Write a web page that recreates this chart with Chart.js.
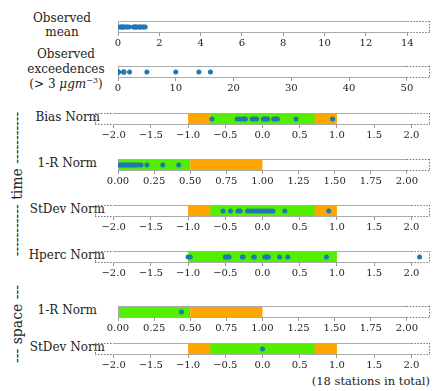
<!DOCTYPE html>
<html>
<head>
<meta charset="utf-8">
<script src="https://cdn.jsdelivr.net/npm/chart.js@4/dist/chart.umd.min.js"></script>
<style>
  body { margin: 0; background: #fff; }
  #wrap { position: relative; width: 436px; height: 391px; overflow: hidden; font-family: "DejaVu Serif", serif; color: #222; }
  canvas { position: absolute; left: 0; }
  .lbl { position: absolute; font-size: 12px; line-height: 14px; white-space: nowrap; transform: translateY(-50%); }
  .side { position: absolute; font-size: 14px; white-space: nowrap; transform: translate(-50%, -50%) rotate(-90deg); color: #222; }
  sup { font-size: 8px; vertical-align: 5px; line-height: 0; }
</style>
</head>
<body>
<div id="wrap">
  <div class="lbl" style="left:12px;width:100px;text-align:center;top:25px">Observed<br>mean</div>
  <div class="lbl" style="left:16px;width:100px;text-align:center;top:69px;line-height:15px">Observed<br>exceedences<br>(&gt; 3 <i>μgm</i><sup>−3</sup>)</div>
  <div class="lbl" style="right:336px;top:117px">Bias Norm</div>
  <div class="lbl" style="right:339px;top:163px">1-R Norm</div>
  <div class="lbl" style="right:331px;top:209px">StDev Norm</div>
  <div class="lbl" style="right:331px;top:255px">Hperc Norm</div>
  <div class="lbl" style="right:339px;top:310px">1-R Norm</div>
  <div class="lbl" style="right:331px;top:347px">StDev Norm</div>
  <div class="side" style="left:17px;top:184px">----------- time -----------</div>
  <div class="side" style="left:17px;top:324px">--- space ---</div>
  <div class="lbl" style="right:6px;top:381px;font-size:11.5px">(18 stations in total)</div>
</div>
<script>
// values per station (18 stations)
let obsMean = [0.1, 0.15, 0.2, 0.25, 0.3, 0.4, 0.45, 0.55, 0.75, 0.8, 0.85, 0.9, 1.0, 1.05, 1.1, 1.2, 1.25, 1.32];
let obsExceed = [0, 0, 0, 0, 0, 0, 0, 0, 0, 0, 1, 1, 1, 2, 5, 10, 14, 16];
let biasNorm = [-0.68, -0.34, -0.31, -0.28, -0.25, -0.23, -0.14, -0.11, -0.08, 0.01, 0.03, 0.05, 0.07, 0.15, 0.18, 0.2, 0.45, 0.94];
let rNorm = [0.01, 0.02, 0.03, 0.04, 0.05, 0.06, 0.07, 0.08, 0.09, 0.1, 0.11, 0.12, 0.13, 0.15, 0.16, 0.2, 0.31, 0.42];
let stdevNorm = [-0.53, -0.43, -0.33, -0.3, -0.2, -0.17, -0.14, -0.1, -0.07, -0.04, -0.01, 0.02, 0.05, 0.08, 0.11, 0.14, 0.3, 0.89];
let hpercNorm = [-1.0, -0.97, -0.5, -0.48, -0.46, -0.45, -0.27, -0.26, -0.12, -0.11, 0.03, 0.05, 0.06, 0.08, 0.23, 0.34, 0.86, 2.11];
let rNormSpace = [0.44];
let stdevNormSpace = [0.0];

// tick labels
let ticksMean = [0, 2, 4, 6, 8, 10, 12, 14];
let ticksExceed = [0, 10, 20, 30, 40, 50];
let ticksNorm = [-2.0, -1.5, -1.0, -0.5, 0.0, 0.5, 1.0, 1.5, 2.0];
let ticksR = [0.0, 0.25, 0.5, 0.75, 1.0, 1.25, 1.5, 1.75, 2.0];

// target bands [from, to]
let greenBias = [-0.7, 0.7];
let orangeBias = [-1.0, 1.0];
let greenR = [0.0, 0.5];
let orangeR = [0.5, 1.0];
let greenHperc = [-1.0, 1.0];

const GREEN = '#52f000';
const ORANGE = '#ffa500';
const BLUE = '#1f77b4';

// draws the coloured bands and the frame
const bandPlugin = {
  id: 'bands',
  beforeDatasetsDraw(chart) {
    let ctx = chart.ctx;
    let a = chart.chartArea;
    let x = chart.scales.x;
    let o = chart.options.plugins.bands;
    ctx.save();
    o.list.forEach(function(b) {
      let x1 = x.getPixelForValue(b.range[0]);
      let x2 = x.getPixelForValue(b.range[1]);
      ctx.fillStyle = b.color;
      ctx.fillRect(x1, a.top, x2 - x1, a.bottom - a.top);
    });
    // frame: solid inside tick range, dotted outside
    let t0 = x.getPixelForValue(o.ticks[0]);
    let t1 = x.getPixelForValue(o.ticks[o.ticks.length - 1]);
    ctx.lineWidth = 1;
    function seg(xa, ya, xb, yb, dotted) {
      ctx.beginPath();
      ctx.setLineDash(dotted ? [1.5, 1.5] : []);
      ctx.strokeStyle = dotted ? '#777' : '#aaa';
      ctx.moveTo(xa, ya);
      ctx.lineTo(xb, yb);
      ctx.stroke();
    }
    let top = a.top + 0.5, bot = a.bottom - 0.5;
    [top, bot].forEach(function(y) {
      if (t0 > a.left + 1) seg(a.left, y, t0, y, true);
      seg(t0, y, t1, y, false);
      if (t1 < a.right - 1) seg(t1, y, a.right, y, true);
    });
    seg(a.left + 0.5, a.top, a.left + 0.5, a.bottom, t0 > a.left + 1);
    seg(a.right - 0.5, a.top, a.right - 0.5, a.bottom, t1 < a.right - 1);
    ctx.restore();
  }
};

function makePanel(top, left, right, min, max, values, ticks, bands, digits) {
  let cv = document.createElement('canvas');
  cv.width = 436;
  cv.height = 34;
  cv.style.top = top + 'px';
  document.getElementById('wrap').appendChild(cv);
  new Chart(cv.getContext('2d'), {
    type: 'scatter',
    data: {
      datasets: [{
        data: values.map(function(v) { return { x: v, y: 0.5 }; }),
        backgroundColor: BLUE,
        borderColor: BLUE,
        pointRadius: 2.5,
        borderWidth: 0
      }]
    },
    options: {
      responsive: false,
      animation: false,
      layout: { padding: { left: left, right: 436 - right, top: 0, bottom: 0 } },
      plugins: {
        legend: { display: false },
        tooltip: { enabled: false },
        bands: { list: bands, ticks: ticks }
      },
      scales: {
        x: {
          type: 'linear',
          min: min,
          max: max,
          afterBuildTicks: function(s) { s.ticks = ticks.map(function(v) { return { value: v }; }); },
          afterFit: function(s) { s.height = 18; },
          ticks: {
            autoSkip: false,
            maxRotation: 0,
            padding: 1,
            color: '#222',
            font: { family: 'DejaVu Serif', size: 10 },
            callback: function(v) { return digits == null ? String(v) : v.toFixed(digits).replace('-', '\u2212'); }
          },
          grid: { drawOnChartArea: false, drawTicks: true, tickLength: 3, color: '#999' },
          border: { display: false }
        },
        y: { display: false, min: 0, max: 1 }
      }
    },
    plugins: [bandPlugin]
  });
}

makePanel(17, 118, 430, 0, 15.1, obsMean, ticksMean, [], null);
makePanel(62, 118, 430, 0, 54, obsExceed, ticksExceed, [], null);
makePanel(109, 95, 430, -2.25, 2.25, biasNorm, ticksNorm,
  [{ range: orangeBias, color: ORANGE }, { range: greenBias, color: GREEN }], 1);
makePanel(155, 118, 430, 0, 2.16, rNorm, ticksR,
  [{ range: greenR, color: GREEN }, { range: orangeR, color: ORANGE }], 2);
makePanel(201, 95, 430, -2.25, 2.25, stdevNorm, ticksNorm,
  [{ range: orangeBias, color: ORANGE }, { range: greenBias, color: GREEN }], 1);
makePanel(247, 95, 430, -2.25, 2.25, hpercNorm, ticksNorm,
  [{ range: greenHperc, color: GREEN }], 1);
makePanel(302, 118, 430, 0, 2.16, rNormSpace, ticksR,
  [{ range: greenR, color: GREEN }, { range: orangeR, color: ORANGE }], 2);
makePanel(339, 95, 430, -2.25, 2.25, stdevNormSpace, ticksNorm,
  [{ range: orangeBias, color: ORANGE }, { range: greenBias, color: GREEN }], 1);
</script>
</body>
</html>
